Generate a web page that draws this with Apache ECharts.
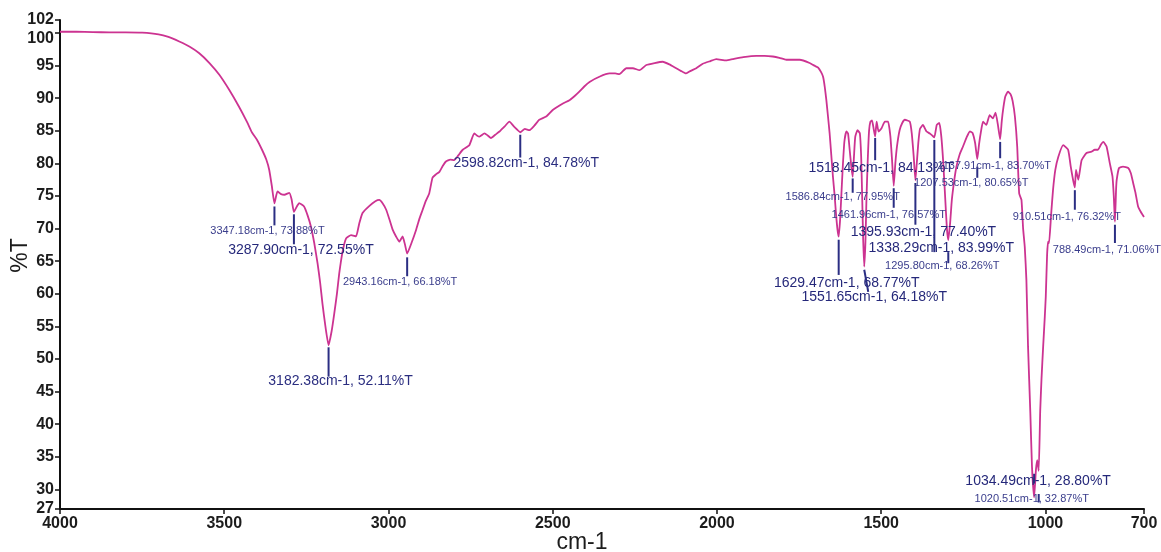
<!DOCTYPE html>
<html>
<head>
<meta charset="utf-8">
<title>FTIR spectrum</title>
<script src="https://cdn.jsdelivr.net/npm/echarts@6/dist/echarts.min.js"></script>
<style>
  html, body { margin: 0; padding: 0; background: #fff; }
  #chart { width: 1161px; height: 552px; }
</style>
</head>
<body>
<div id="chart"></div>
<script>
// Wavenumber axis (cm-1) and transmittance (%T) of the measured spectrum
const wavenumbers = [
  4000, 3950, 3900, 3850, 3800, 3750, 3700, 3670, 3637, 3605, 3576, 3545, 3515, 3485, 3455, 3430,
  3415, 3400, 3385, 3372, 3363, 3355, 3347.18, 3338, 3327, 3317, 3302, 3295, 3287.90, 3279, 3272, 3257,
  3246, 3236, 3226, 3216, 3208, 3201, 3192, 3182.38, 3173, 3165, 3157, 3150, 3140, 3129, 3114, 3099,
  3089, 3079, 3058, 3040, 3028, 3018, 3007, 2997, 2987, 2977, 2967, 2957, 2950, 2943.16, 2930, 2916,
  2906, 2896, 2886, 2876, 2866, 2856, 2845, 2835, 2825, 2812, 2800, 2788, 2774, 2754, 2739, 2731,
  2723, 2708, 2698, 2688, 2675, 2662, 2646, 2632, 2617, 2598.82, 2585, 2571, 2556, 2541, 2520, 2500,
  2469, 2449, 2434, 2419, 2404, 2388, 2358, 2327, 2310, 2297, 2276, 2256, 2236, 2215, 2190, 2165,
  2145, 2124, 2110, 2094, 2080, 2063, 2043, 2020, 2002, 1972, 1952, 1920, 1880, 1855, 1830, 1810,
  1789, 1748, 1718, 1700, 1692, 1683, 1677, 1672, 1667, 1662, 1657, 1652, 1647, 1642, 1638, 1633,
  1629.47, 1625, 1621, 1617, 1612, 1606, 1601, 1596, 1591, 1586.84, 1583, 1579, 1572, 1565, 1561, 1558,
  1555, 1551.65, 1548, 1545, 1541, 1537, 1533, 1528, 1523, 1518.45, 1514, 1508, 1499, 1489, 1479, 1472,
  1467, 1461.96, 1457, 1452, 1444, 1436, 1428, 1413, 1407, 1401, 1395.93, 1391, 1387, 1382, 1373, 1362,
  1352, 1345, 1338.29, 1331, 1323, 1317, 1311, 1305, 1300, 1295.80, 1290, 1285, 1278, 1271, 1261, 1251,
  1240, 1230, 1222, 1214, 1207.53, 1202, 1196, 1190, 1180, 1170, 1160, 1152, 1145, 1137.91, 1133, 1128,
  1122, 1114, 1106, 1100, 1093, 1086, 1080, 1073, 1068, 1063, 1058, 1053, 1046, 1041, 1034.49, 1029,
  1025, 1020.51, 1016, 1012, 1007, 1002, 999, 995, 992, 989, 983, 977, 970, 961, 946, 931,
  923, 916, 910.51, 907, 900, 890, 875, 860, 850, 840, 831, 824, 814, 804, 796, 792,
  788.49, 785, 783, 776, 764, 748, 740, 733, 726, 718, 710, 700
];
const transmittance = [
  100.2, 100.2, 100.15, 100.1, 100.1, 100.05, 99.8, 99.4, 98.7, 97.9, 96.9, 95.4, 93.6, 91.3, 88.7, 86.3,
  84.7, 83.6, 82.1, 80.6, 79.0, 76.5, 73.88, 75.7, 75.3, 75.2, 75.5, 74.5, 72.55, 73.4, 73.9, 73.4,
  72.0, 70.3, 67.8, 64.7, 61.7, 58.5, 55.0, 52.11, 54.3, 57.0, 60.0, 63.1, 66.4, 68.5, 69.0, 68.8,
  70.8, 72.4, 73.5, 74.2, 74.4, 73.9, 72.9, 71.4, 69.8, 68.8, 68.0, 68.8, 67.6, 66.18, 67.8, 69.8,
  71.5, 72.9, 74.3, 75.4, 77.8, 78.3, 78.7, 79.6, 80.3, 80.6, 80.5, 81.2, 82.1, 82.8, 84.6, 84.3,
  84.1, 84.6, 84.3, 83.9, 84.4, 84.9, 85.7, 86.4, 85.6, 84.78, 85.3, 85.1, 85.8, 86.7, 87.2, 88.2,
  89.2, 89.7, 90.3, 91.0, 91.8, 92.5, 93.3, 93.8, 93.8, 93.7, 94.6, 94.6, 94.3, 95.1, 95.4, 95.6,
  95.2, 94.6, 94.2, 93.8, 94.2, 94.6, 95.3, 95.7, 96.0, 95.8, 96.0, 96.3, 96.5, 96.5, 96.4, 96.2,
  95.9, 95.9, 95.4, 94.9, 94.7, 94.0, 93.3, 91.8, 89.7, 87.2, 84.6, 81.3, 78.0, 75.2, 72.5, 69.8,
  68.77, 71.5, 75.5, 79.5, 83.4, 84.9, 84.6, 82.1, 79.5, 77.95, 81.0, 84.1, 85.1, 84.6, 81.0, 75.0,
  68.5, 64.18, 68.0, 74.4, 80.5, 85.0, 86.4, 86.6, 85.3, 84.13, 86.4, 84.9, 85.4, 86.4, 86.4, 84.1,
  80.5, 76.57, 80.0, 82.6, 85.1, 86.2, 86.7, 86.4, 84.6, 81.0, 77.40, 80.5, 83.2, 85.3, 85.9, 84.9,
  84.6, 84.3, 83.99, 85.9, 86.2, 84.1, 80.0, 74.5, 70.0, 68.26, 71.0, 74.4, 77.3, 79.5, 81.4, 82.6,
  84.0, 84.9, 84.7, 83.1, 80.65, 83.0, 85.0, 86.4, 85.9, 87.4, 86.9, 87.8, 86.0, 83.70, 86.5, 88.6,
  90.3, 91.0, 90.6, 89.6, 87.2, 82.6, 75.4, 74.4, 70.0, 67.2, 62.1, 51.9, 41.7, 33.5, 28.80, 33.0,
  34.5, 32.87, 42.0, 47.0, 51.9, 56.5, 59.6, 66.0, 68.0, 67.8, 72.0, 75.9, 79.0, 81.0, 82.8, 82.1,
  79.5, 77.5, 76.32, 79.0, 77.5, 80.5, 81.6, 81.8, 82.1, 82.1, 82.9, 83.3, 82.6, 80.0, 78.0, 75.0,
  71.06, 76.0, 77.5, 79.3, 79.5, 79.3, 78.5, 77.0, 75.5, 73.4, 72.6, 71.8
];

// Picked peaks
const peakWavenumbers = [
  3347.18, 3287.90, 3182.38, 2943.16, 2598.82, 1629.47, 1586.84, 1551.65, 1518.45,
  1461.96, 1395.93, 1338.29, 1295.80, 1207.53, 1137.91, 1034.49, 1020.51, 910.51, 788.49
];
const peakTransmittance = [
  73.88, 72.55, 52.11, 66.18, 84.78, 68.77, 77.95, 64.18, 84.13,
  76.57, 77.40, 83.99, 68.26, 80.65, 83.70, 28.80, 32.87, 76.32, 71.06
];

// Axis tick values
const xTicks = [4000, 3500, 3000, 2500, 2000, 1500, 1000, 700];
const yTicks = [27, 30, 35, 40, 45, 50, 55, 60, 65, 70, 75, 80, 85, 90, 95, 100];
const yTopTick = [102];

// Placement of each peak marker and its caption (in %T along the marker, dx in px)
const peakLabelLayout = [
  { lineTop: 73.4, lineBottom: 70.5, textAt: 69.6, dx: -7, size: 's' },
  { lineTop: 72.2, lineBottom: 67.6, textAt: 66.7, dx: 7, size: 'l' },
  { lineTop: 51.8, lineBottom: 47.3, textAt: 46.6, dx: 12, size: 'm' },
  { lineTop: 65.6, lineBottom: 62.7, textAt: 61.8, dx: -7, size: 's' },
  { lineTop: 84.4, lineBottom: 80.9, textAt: 80.1, dx: 6, size: 'm' },
  { lineTop: 68.3, lineBottom: 62.9, textAt: 61.7, dx: 8, size: 'l' },
  { lineTop: 77.7, lineBottom: 75.5, textAt: 74.8, dx: -10, size: 's' },
  { lineTop: 63.7, lineBottom: 60.3, textAt: 59.5, dx: 10, size: 'l', tilt: 4 },
  { lineTop: 83.9, lineBottom: 80.5, textAt: 79.3, dx: 6, size: 'l' },
  { lineTop: 76.2, lineBottom: 73.2, textAt: 72.1, dx: -5, size: 's' },
  { lineTop: 77.0, lineBottom: 70.6, textAt: 69.4, dx: 8, size: 'l' },
  { lineTop: 83.6, lineBottom: 66.4, textAt: 67.0, dx: 7, size: 'l' },
  { lineTop: 66.4, lineBottom: 64.7, textAt: 64.3, dx: -6, size: 's' },
  { lineTop: 79.5, lineBottom: 77.8, textAt: 77.0, dx: -6, size: 's' },
  { lineTop: 83.3, lineBottom: 80.8, textAt: 79.6, dx: -6, size: 's' },
  { lineTop: 32.4, lineBottom: 30.9, textAt: 31.2, dx: 4, size: 'l' },
  { lineTop: 29.3, lineBottom: 28.0, textAt: 28.6, dx: -7, size: 's' },
  { lineTop: 75.9, lineBottom: 72.9, textAt: 71.8, dx: -8, size: 's' },
  { lineTop: 70.6, lineBottom: 67.8, textAt: 66.7, dx: -8, size: 's' }
];

const captionFonts = {
  s: '11px "Liberation Sans", Arial, sans-serif',
  m: '14px "Liberation Sans", Arial, sans-serif',
  l: '14px "Liberation Sans", Arial, sans-serif'
};
const captionColors = { s: '#3a3d8c', m: '#2b2e80', l: '#25287a' };

const spectrum = wavenumbers.map((w, i) => [w, transmittance[i]]);
const peaks = peakWavenumbers.map((w, i) => [w, peakTransmittance[i]]);

const axisFont = {
  fontFamily: '"Liberation Sans", Arial, sans-serif',
  fontSize: 16,
  fontWeight: 'bold',
  color: '#1c1c1c',
  formatter: (v) => String(v),
  showMinLabel: true,
  showMaxLabel: true,
  hideOverlap: false
};
const nameFont = { fontFamily: '"Liberation Sans", Arial, sans-serif', fontSize: 23, color: '#1c1c1c' };
const axisLineStyle = { color: '#111', width: 2 };
const tickLineStyle = { color: '#111', width: 1.5 };

const chart = echarts.init(document.getElementById('chart'), null, { renderer: 'canvas' });
chart.setOption({
  animation: false,
  backgroundColor: '#ffffff',
  grid: { left: 60, right: 17, top: 20, bottom: 43, containLabel: false, outerBoundsMode: 'none' },
  xAxis: {
    type: 'value',
    min: 700,
    max: 4000,
    inverse: true,
    name: 'cm-1',
    nameLocation: 'middle',
    nameGap: 22,
    nameMoveOverlap: false,
    nameTextStyle: Object.assign({ padding: [0, 40, 0, 0] }, nameFont),
    axisLine: { show: true, lineStyle: axisLineStyle },
    axisTick: { show: true, customValues: xTicks, length: 5, lineStyle: tickLineStyle },
    axisLabel: Object.assign({ customValues: xTicks, margin: 7 }, axisFont),
    splitLine: { show: false }
  },
  yAxis: [
    {
      type: 'value',
      min: 27,
      max: 102,
      name: '%T',
      nameLocation: 'middle',
      nameGap: 28,
      nameRotate: 90,
      nameMoveOverlap: false,
      nameTextStyle: Object.assign({ padding: [0, 0, 0, 18] }, nameFont),
      axisLine: { show: true, lineStyle: axisLineStyle },
      axisTick: { show: true, customValues: yTicks, length: 5, lineStyle: tickLineStyle },
      axisLabel: Object.assign({}, axisFont, {
        customValues: yTicks,
        margin: 6,
        // the 100 label is nudged down a little so it clears the 102 label
        formatter: (v) => (v === 100 ? '{low|100}' : String(v)),
        rich: {
          low: {
            fontFamily: '"Liberation Sans", Arial, sans-serif',
            fontSize: 16,
            fontWeight: 'bold',
            color: '#1c1c1c',
            padding: [12, 0, 0, 0]
          }
        }
      }),
      splitLine: { show: false }
    },
    {
      // top end of the %T scale, labelled on its own so it sits right above 100
      type: 'value',
      min: 27,
      max: 102,
      position: 'left',
      axisLine: { show: false },
      axisTick: { show: true, customValues: yTopTick, length: 5, lineStyle: tickLineStyle },
      axisLabel: Object.assign({}, axisFont, { customValues: yTopTick, margin: 6 }),
      splitLine: { show: false }
    }
  ],
  series: [
    {
      type: 'line',
      data: spectrum,
      showSymbol: false,
      smooth: 0.15,
      lineStyle: { color: '#cc3391', width: 1.8 },
      z: 2
    },
    {
      type: 'custom',
      data: peaks,
      z: 3,
      clip: false,
      renderItem(params, api) {
        const L = peakLabelLayout[params.dataIndex];
        const wn = api.value(0);
        const t = api.value(1);
        const top = api.coord([wn, L.lineTop]);
        const bottom = api.coord([wn, L.lineBottom]);
        const at = api.coord([wn, L.textAt]);
        const caption = wn.toFixed(2) + 'cm-1, ' + t.toFixed(2) + '%T';
        return {
          type: 'group',
          children: [
            {
              type: 'line',
              shape: { x1: top[0], y1: top[1], x2: bottom[0] + (L.tilt || 0), y2: bottom[1] },
              style: { stroke: '#2b2e83', lineWidth: 2 }
            },
            {
              type: 'text',
              x: at[0] + L.dx,
              y: at[1],
              style: {
                text: caption,
                font: captionFonts[L.size],
                fill: captionColors[L.size],
                align: 'center',
                verticalAlign: 'middle'
              }
            }
          ]
        };
      }
    }
  ]
});
</script>
</body>
</html>
